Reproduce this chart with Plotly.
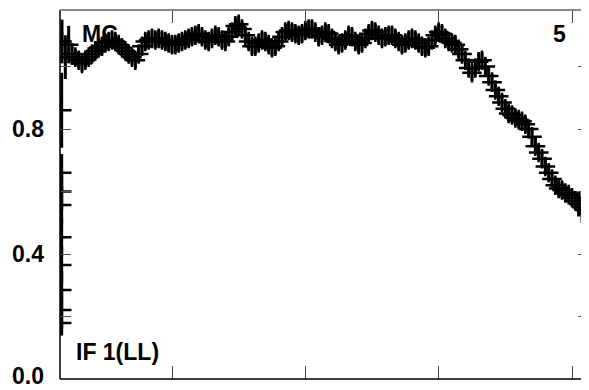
import plotly.graph_objects as go

# Channel numbers and normalised amplitude
channels = list(range(7, 166))
amplitude = [
    1.08, 1.03, 1.07, 1.04, 1.03, 1.02, 1.01, 1.02, 1.03, 1.04,
    1.05, 1.06, 1.065, 1.075, 1.08, 1.085, 1.08, 1.07, 1.06, 1.05,
    1.04, 1.03, 1.02, 1.04, 1.065, 1.08, 1.085, 1.09, 1.085, 1.09,
    1.085, 1.08, 1.075, 1.07, 1.07, 1.075, 1.08, 1.085, 1.09, 1.095,
    1.10, 1.105, 1.095, 1.085, 1.08, 1.09, 1.10, 1.095, 1.085, 1.08,
    1.095, 1.11, 1.13, 1.135, 1.12, 1.10, 1.08, 1.065, 1.065, 1.075,
    1.085, 1.08, 1.07, 1.06, 1.065, 1.08, 1.095, 1.11, 1.115, 1.11,
    1.105, 1.10, 1.105, 1.115, 1.12, 1.12, 1.11, 1.095, 1.10, 1.11,
    1.105, 1.09, 1.08, 1.07, 1.075, 1.085, 1.10, 1.095, 1.08, 1.07,
    1.075, 1.09, 1.105, 1.115, 1.11, 1.10, 1.09, 1.095, 1.10, 1.10,
    1.09, 1.08, 1.07, 1.075, 1.085, 1.09, 1.085, 1.075, 1.065, 1.06,
    1.065, 1.085, 1.10, 1.11, 1.105, 1.09, 1.08, 1.075, 1.07, 1.055,
    1.04, 1.02, 0.995, 0.98, 0.995, 1.015, 1.02, 1.00, 0.97, 0.95,
    0.925, 0.905, 0.885, 0.865, 0.85, 0.845, 0.835, 0.83, 0.825, 0.815,
    0.80, 0.775, 0.745, 0.725, 0.705, 0.68, 0.66, 0.64, 0.62, 0.61,
    0.605, 0.595, 0.59, 0.58, 0.57, 0.56, 0.55, 0.54, 0.53,
]
amp_error = (
    [0.07, 0.07, 0.06, 0.035]
    + [0.026] * 150
    + [0.03, 0.04, 0.05, 0.06, 0.07]
)

# Band-edge samples stacked at the first channel
edge_channels = [6.9, 6.9, 6.9, 6.9, 6.9, 6.9, 6.9, 6.9, 6.9]
edge_amplitude = [0.86, 0.66, 0.60, 0.557, 0.454, 0.365, 0.285, 0.221, 0.179]
edge_error = [0.12, 0.06, 0.06, 0.06, 0.06, 0.06, 0.06, 0.06, 0.04]

x_ticks = [40, 80, 120, 160]
y_ticks = [0.0, 0.2, 0.4, 0.6, 0.8, 1.0]
y_tick_text = ["", "", "0.4", "", "0.8", ""]
y_zero_label = "0.0"

FONT = "Liberation Sans, Arial, Helvetica, sans-serif"
OFF = 8                      # default page body margin
W, H = 589 - OFF, 390 - OFF  # figure fits the window exactly
L, T = 60 - OFF, 10 - OFF
B = H - (379 - OFF)

fig = go.Figure()
for xs, ys, es in [(channels, amplitude, amp_error),
                   (edge_channels, edge_amplitude, edge_error)]:
    fig.add_trace(go.Scatter(
        x=xs, y=ys, mode="markers",
        marker=dict(symbol="cross-thin", size=14, color="black",
                    line=dict(color="black", width=2.5)),
        error_y=dict(type="data", array=es, visible=True, color="black",
                     thickness=3, width=0),
        showlegend=False, hoverinfo="skip", cliponaxis=True,
    ))

fig.update_layout(
    width=W, height=H,
    margin=dict(l=L, r=0, t=T, b=B, autoexpand=False),
    paper_bgcolor="white", plot_bgcolor="white",
    xaxis=dict(range=[6.4, 165.1], tickvals=x_ticks, ticktext=["", "", "", ""],
               ticks="inside", ticklen=13, tickwidth=1, tickcolor="#444",
               mirror="ticks", showline=False, showgrid=False, zeroline=False,
               automargin=False),
    yaxis=dict(range=[0, 1.1808], tickvals=y_ticks, ticktext=y_tick_text,
               ticks="inside", ticklen=11, tickwidth=1, tickcolor="#555",
               mirror="ticks", showline=False, showgrid=False, zeroline=False,
               automargin=False,
               tickfont=dict(family=FONT, size=23, color="black", weight="bold"),
               ticklabelstandoff=15),
    shapes=[
        dict(type="line", xref="paper", yref="paper", x0=0, x1=0, y0=0, y1=1,
             line=dict(color="black", width=1.5)),
        dict(type="line", xref="paper", yref="paper", x0=0, x1=1, y0=0, y1=0,
             line=dict(color="black", width=1.5)),
        dict(type="line", xref="paper", yref="paper", x0=0, x1=1, y0=1, y1=1,
             line=dict(color="#888", width=2)),
    ],
)

plot_w, plot_h = W - L, H - T - B
labels = [("MC", 100, 34), ("5", 559, 34), ("IF 1(LL)", 117, 352)]
for text, px, py in labels:
    fx, fy = px - OFF, py - OFF
    fig.add_annotation(text=text, xref="paper", yref="paper",
                       x=(fx - L) / plot_w, y=1 - (fy - T) / plot_h,
                       xanchor="center", yanchor="middle", showarrow=False,
                       font=dict(family=FONT, size=23, color="black", weight="bold"))

# "0.0" label kept fully inside the figure at the bottom-left corner
fig.add_annotation(text=y_zero_label, xref="paper", yref="paper",
                   x=-15 / plot_w, y=-B / plot_h, xanchor="right", yanchor="bottom",
                   showarrow=False, borderpad=0,
                   font=dict(family=FONT, size=23, color="black", weight="bold"))

fig.write_html("out.html")
